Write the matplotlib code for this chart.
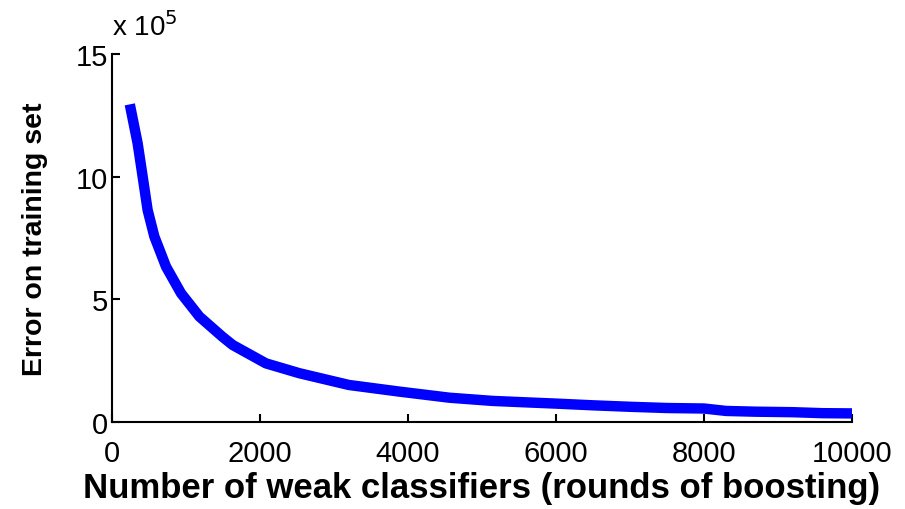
import matplotlib
matplotlib.use("Agg")
import matplotlib.pyplot as plt
import numpy as np

# boosting rounds vs training error (in units of 1e5)
rounds = [240, 346, 414, 481, 572, 730, 932, 1180, 1490, 1630, 2080, 2530, 3200,
          3880, 4560, 5140, 5600, 6000, 6500, 7000, 7500,
          8000, 8300, 8700, 9200, 9600, 10000]
error = [12.95, 11.36, 10.0, 8.64, 7.56, 6.33, 5.25, 4.3, 3.48, 3.14, 2.39, 1.99, 1.51,
         1.24, 0.99, 0.86, 0.8, 0.75, 0.68, 0.62, 0.57,
         0.55, 0.45, 0.42, 0.40, 0.36, 0.35]

plt.rcParams['font.family'] = ['Liberation Sans', 'DejaVu Sans']

fig = plt.figure(figsize=(9.05, 5.1), dpi=100)
ax = fig.add_axes([0.1238, 0.1706, 0.8176, 0.7214])
ax.plot(rounds, error, color='#0000ff', linewidth=7.5, solid_capstyle='butt',
        solid_joinstyle='round')

ax.set_xlim(0, 10000)
ax.set_ylim(0, 15)
ax.set_xticks([0, 2000, 4000, 6000, 8000, 10000])
ax.set_yticks([0, 5, 10, 15])
ax.spines['top'].set_visible(False)
ax.spines['right'].set_visible(False)
for s in ['left', 'bottom']:
    ax.spines[s].set_linewidth(1.5)
ax.tick_params(direction='in', length=6, width=1.5, labelsize=21)
ax.tick_params(axis='x', pad=12)
ax.tick_params(axis='y', pad=3)

ax.set_xlabel('Number of weak classifiers (rounds of boosting)', fontsize=25,
              fontweight='bold', labelpad=3)
ax.set_ylabel('Error on training set', fontsize=20.5, fontweight='bold', labelpad=20)
ax.text(0.0, 1.035, r'x 10$^5$', transform=ax.transAxes, fontsize=20,
        ha='left', va='bottom')

fig.savefig('out.png', dpi=100, facecolor='white')
